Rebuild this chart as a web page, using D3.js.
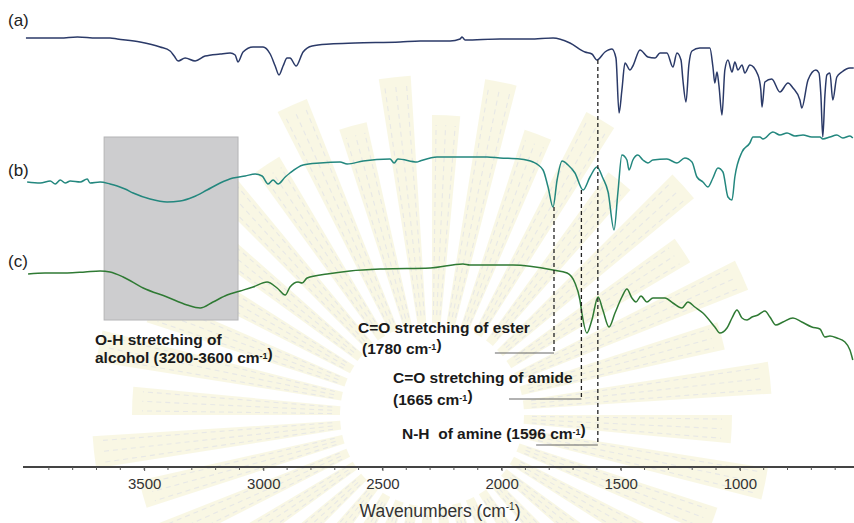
<!DOCTYPE html>
<html><head><meta charset="utf-8">
<script src="https://cdn.jsdelivr.net/npm/d3@7"></script>
<style>
html,body{margin:0;padding:0;background:#fff;}
svg{display:block;font-family:"Liberation Sans",Arial,sans-serif;}
</style></head>
<body>
<svg id="chart" width="854" height="523"></svg>
<script>
// ---- Data (wavenumber cm-1, relative transmittance a.u.) ----
const traceA = [[3996,429],[3852,429],[3780,430],[3700,429],[3643,429],[3613,428],[3517,425],[3433,420],[3391,416],[3374,411],[3357,406],[3328,409],[3286,406],[3244,411],[3181,413],[3139,414],[3118,412],[3106,405],[3085,415],[3043,420],[3001,420],[2971,413],[2950,401],[2934,392],[2917,401],[2900,409],[2888,409],[2862,401],[2833,415],[2795,421],[2720,423],[2615,424],[2426,425],[2342,426],[2216,426],[2174,428],[2166,430],[2153,427],[2007,428],[1881,428],[1784,429],[1713,424],[1650,415],[1621,413],[1600,407],[1566,415],[1537,418],[1520,409],[1507,354],[1495,377],[1482,404],[1461,397],[1449,401],[1419,417],[1386,410],[1356,409],[1335,414],[1306,414],[1281,400],[1264,414],[1247,407],[1239,387],[1226,365],[1214,402],[1201,416],[1168,419],[1126,419],[1113,400],[1105,384],[1096,395],[1088,382],[1075,352],[1063,397],[1050,407],[1033,395],[1021,405],[1008,397],[991,402],[979,394],[958,402],[924,392],[912,377],[907,360],[895,385],[866,388],[832,375],[798,384],[777,379],[748,367],[740,359],[714,387],[681,397],[668,394],[660,372],[652,330],[643,372],[635,392],[622,394],[610,367],[593,390],[572,395],[538,399],[522,399]];
const traceB = [[3991,285],[3936,284],[3894,286],[3873,283],[3852,287],[3831,284],[3810,286],[3768,285],[3739,288],[3727,284],[3685,285],[3643,283],[3613,281],[3580,278],[3546,274],[3475,268],[3404,265],[3349,266],[3294,270],[3236,277],[3181,284],[3127,289],[3076,291],[3034,293],[3005,291],[2980,283],[2959,287],[2938,283],[2908,290],[2888,294],[2833,302],[2762,304],[2678,305],[2648,303],[2581,306],[2468,308],[2451,304],[2435,308],[2355,305],[2342,306],[2271,310],[2061,310],[2007,309],[1923,308],[1868,305],[1826,297],[1805,280],[1784,260],[1767,287],[1746,306],[1721,302],[1692,294],[1658,277],[1629,290],[1600,300],[1575,289],[1553,275],[1528,237],[1512,274],[1495,312],[1474,307],[1465,297],[1449,307],[1428,312],[1407,307],[1386,304],[1365,307],[1306,308],[1264,304],[1231,309],[1201,305],[1180,290],[1155,285],[1134,280],[1113,289],[1092,299],[1071,295],[1050,270],[1033,267],[1021,290],[991,315],[958,324],[945,330],[916,330],[903,328],[861,335],[832,332],[802,334],[769,331],[735,332],[698,330],[664,330],[652,328],[622,330],[593,332],[568,329],[538,331],[526,329]];
const traceC = [[3987,193],[3916,194],[3823,194],[3748,195],[3685,196],[3643,195],[3588,190],[3504,179],[3404,170],[3320,162],[3265,159],[3211,165],[3152,172],[3097,176],[3043,180],[2984,185],[2942,179],[2908,172],[2888,180],[2854,185],[2837,184],[2816,189],[2732,193],[2636,196],[2497,198],[2300,199],[2162,203],[2133,202],[1952,202],[1784,197],[1725,194],[1692,184],[1671,167],[1663,154],[1642,134],[1621,147],[1595,170],[1575,157],[1549,140],[1524,154],[1495,170],[1474,178],[1453,169],[1436,165],[1415,171],[1390,165],[1365,169],[1314,169],[1281,164],[1243,159],[1218,165],[1189,160],[1155,154],[1105,140],[1084,134],[1054,139],[1033,149],[1012,157],[991,149],[970,147],[949,150],[924,152],[895,156],[874,150],[849,142],[819,145],[777,149],[740,145],[698,140],[664,138],[643,130],[622,131],[593,129],[559,125],[538,117],[526,107]];
const seriesLabels = ["(a)","(b)","(c)"];
const majorTicks = [3500,3000,2500,2000,1500,1000];
const minorTicks = d3.range(3900,500,-100);
// band marker: O-H region
const ohBand = {w0:3668, w1:3106, v0:147, v1:330};
// annotated peaks: wavenumber, top of dashed line, level of leader
const peaks = [
  {w:1780, top:260, bottom:114, from:2028},
  {w:1665, top:277, bottom:68, from:1969},
  {w:1596, top:407, bottom:22, from:1855}
];

const svg = d3.select("#chart");
const W = 854, H = 523;
const x = d3.scaleLinear().domain([4000,500]).range([25,859]);
const y = d3.scaleLinear().domain([0,467]).range([467,0]);
const baseY = y(0);

// ---- faint watermark (sunburst) ----
const wm = svg.append("g").attr("transform","translate(432,415)").attr("opacity",0.42);
const nR = 40;
for (let i=0;i<nR;i++){
  const a0 = (i/nR)*2*Math.PI, a1 = a0 + (2*Math.PI/nR)*0.6;
  const rOut = i%2?340:300;
  const arc = d3.arc().innerRadius(92).outerRadius(rOut).startAngle(a0).endAngle(a1);
  wm.append("path").attr("d",arc()).attr("fill","#f1eec0");
  [0.15,0.5,0.85].forEach(f=>{
    const a = a0 + (a1-a0)*f - Math.PI/2;
    wm.append("line").attr("x1",Math.cos(a)*100).attr("y1",Math.sin(a)*100)
      .attr("x2",Math.cos(a)*(rOut-10)).attr("y2",Math.sin(a)*(rOut-10))
      .attr("stroke","#c9c9c4").attr("stroke-width",1.1).attr("stroke-dasharray","5,4");
  });
}

// ---- O-H band ----
svg.append("rect")
  .attr("x",x(ohBand.w0)).attr("y",y(ohBand.v1))
  .attr("width",x(ohBand.w1)-x(ohBand.w0)).attr("height",y(ohBand.v0)-y(ohBand.v1))
  .attr("fill","#cdcdcf").attr("stroke","#b4b4b6").attr("stroke-width",1);

// ---- traces ----
const line = d3.line().x(d=>x(d[0])).y(d=>y(d[1])).curve(d3.curveMonotoneX);
const traces = [[traceA,"#2b3a68"],[traceC,"#2f7a34"],[traceB,"#23877e"]];
traces.forEach(([data,col])=>{
  svg.append("path").datum(data).attr("d",line).attr("fill","none")
    .attr("stroke",col).attr("stroke-width",1.5).attr("stroke-linejoin","round");
});

// ---- dashed peak markers & leaders ----
peaks.forEach(p=>{
  svg.append("line").attr("x1",x(p.w)).attr("x2",x(p.w)).attr("y1",y(p.top)).attr("y2",y(p.bottom))
    .attr("stroke","#222").attr("stroke-width",1.3).attr("stroke-dasharray","4,3");
  svg.append("line").attr("x1",x(p.from)).attr("x2",x(p.w)).attr("y1",y(p.bottom)).attr("y2",y(p.bottom))
    .attr("stroke","#666").attr("stroke-width",1.2);
});

// ---- axis ----
const ax = svg.append("g").attr("transform",`translate(0,${baseY})`);
ax.append("line").attr("x1",23).attr("x2",W).attr("y1",0).attr("y2",0).attr("stroke","#444").attr("stroke-width",2);
ax.selectAll(".minor").data(minorTicks).join("line").attr("x1",d=>x(d)).attr("x2",d=>x(d)).attr("y1",0).attr("y2",3).attr("stroke","#555").attr("stroke-width",1);
const axis = d3.axisBottom(x).tickValues(majorTicks).tickSize(4).tickSizeOuter(0).tickFormat(d3.format("d"));
const ag = ax.append("g").call(axis);
ag.select(".domain").remove();
ag.selectAll(".tick line").attr("stroke","#555");
ag.selectAll(".tick text").attr("fill","#333").attr("font-size","15px").attr("dy","1.0em")
  .attr("font-family","Liberation Sans, Arial, sans-serif");

// axis title
const t = svg.append("text").attr("x",440).attr("y",517).attr("text-anchor","middle")
  .attr("font-size","17.5px").attr("fill","#333");
t.append("tspan").text("Wavenumbers (cm");
t.append("tspan").attr("font-size","10px").attr("dy","-7").text("-1");
t.append("tspan").attr("dy","7").text(")");

// series labels
const labelY = [26,176,267];
seriesLabels.forEach((s,i)=>{
  svg.append("text").attr("x",8).attr("y",labelY[i]).attr("font-size","17px").attr("fill","#222").text(s);
});

// annotations
function ann(xp,yp,parts){
  const tx = svg.append("text").attr("x",xp).attr("y",yp).attr("font-size","15.5px").attr("font-weight","bold").attr("fill","#1a1a1a");
  parts.forEach(p=>{
    if(p.sup){ tx.append("tspan").attr("font-size","9px").attr("dy","-4").text(p.t); tx.append("tspan").attr("dy","4").text(""); }
    else tx.append("tspan").text(p.t);
  });
}
ann(95,345,[{t:"O-H stretching of"}]);
ann(95,363,[{t:"alcohol (3200-3600 cm"},{t:"-1",sup:1},{t:")"}]);
ann(358,333,[{t:"C=O stretching of ester"}]);
ann(362,354,[{t:"(1780 cm"},{t:"-1",sup:1},{t:")"}]);
ann(393,383,[{t:"C=O stretching of amide"}]);
ann(393,405,[{t:"(1665 cm"},{t:"-1",sup:1},{t:")"}]);
ann(402,439,[{t:"N-H\u00a0 of amine (1596 cm"},{t:"-1",sup:1},{t:")"}]);
</script>
</body></html>
